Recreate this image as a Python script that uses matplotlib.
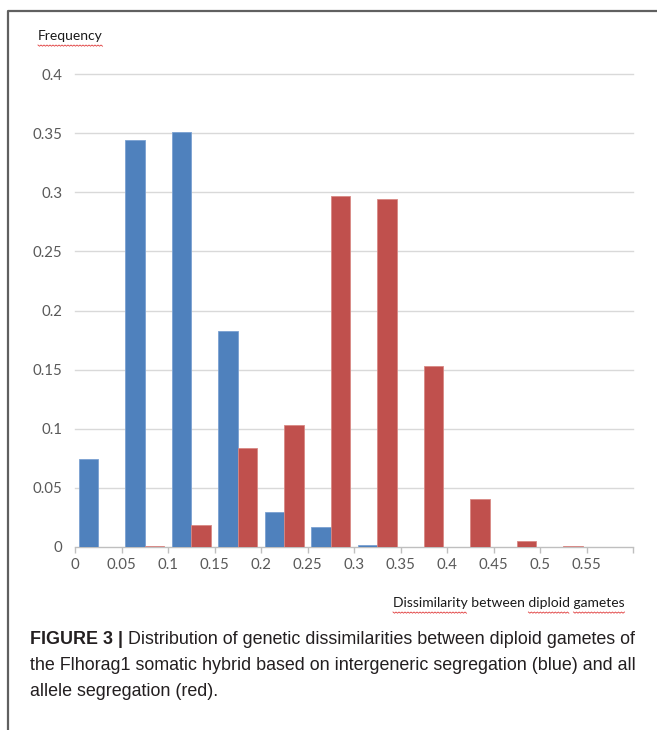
import matplotlib
matplotlib.use("Agg")
import matplotlib.pyplot as plt
from matplotlib.lines import Line2D
import numpy as np

# data
bins = [0.0, 0.05, 0.1, 0.15, 0.2, 0.25, 0.3, 0.35, 0.4, 0.45, 0.5, 0.55]
tick_labels = ["0", "0.05", "0.1", "0.15", "0.2", "0.25", "0.3", "0.35", "0.4", "0.45", "0.5", "0.55"]
blue = [0.074, 0.344, 0.351, 0.183, 0.030, 0.017, 0.0015, 0, 0, 0, 0, 0]
red = [0, 0.0005, 0.019, 0.084, 0.103, 0.297, 0.294, 0.153, 0.041, 0.005, 0.0005, 0]
yticks = [0, 0.05, 0.1, 0.15, 0.2, 0.25, 0.3, 0.35, 0.4]
ytick_labels = ["0", "0.05", "0.1", "0.15", "0.2", "0.25", "0.3", "0.35", "0.4"]

W, H = 657, 730
fig = plt.figure(figsize=(W / 100, H / 100), dpi=100)
chart_font = ["Lato", "DejaVu Sans"]
cap_font = ["Liberation Sans Narrow", "Liberation Sans", "DejaVu Sans"]
fs = 10


def fx(px):
    return px / W


def fy(py):
    return 1 - py / H


ax = fig.add_axes([fx(75), fy(547), (633 - 75) / W, (547 - 74) / H])
ax.set_xlim(0, 0.6)
ax.set_ylim(0, 0.4)

bw = 0.0207
off = 0.0043
x = np.array(bins)
ax.bar(x + off, blue, width=bw, align="edge", color="#4f81bd",
       edgecolor="#7aa1d2", linewidth=0.6, zorder=3)
ax.bar(x + off + bw, red, width=bw, align="edge", color="#c0504d",
       edgecolor="#d88884", linewidth=0.6, zorder=3)

for yv in yticks[1:]:
    ax.axhline(yv, color="#d9d9d9", lw=1.0, zorder=0, clip_on=False)

for s in ["top", "right", "left"]:
    ax.spines[s].set_visible(False)
ax.spines["bottom"].set_color("#bfbfbf")
ax.spines["bottom"].set_linewidth(1.0)

ax.set_yticks(yticks)
ax.set_yticklabels(ytick_labels)
ax.tick_params(axis="y", length=0, pad=9, labelsize=fs + 0.8, labelcolor="#595959")
ax.set_xticks(list(bins) + [0.6])
ax.set_xticklabels(tick_labels + [""])
ax.tick_params(axis="x", length=4, width=1, color="#bfbfbf", pad=4,
               labelsize=fs + 0.8, labelcolor="#595959")
for lab in ax.get_xticklabels() + ax.get_yticklabels():
    lab.set_family(chart_font)

t_freq = fig.text(fx(38), fy(36), "Frequency", family=chart_font, fontsize=fs,
                  color="#1a1a1a", ha="left", va="center")
xl_str = "Dissimilarity between diploid gametes"
t_xl = fig.text(fx(393), fy(603), xl_str, family=chart_font, fontsize=fs,
                color="#1a1a1a", ha="left", va="center")

# frame around the figure panel
fig.add_artist(Line2D([fx(8), fx(8), 1.0], [0.0, fy(11), fy(11)],
                      transform=fig.transFigure, color="#606060", lw=1.6))

fig.canvas.draw()
rend = fig.canvas.get_renderer()


def text_width(s, **kw):
    t = fig.text(0, 0, s, **kw)
    w = t.get_window_extent(rend).width
    t.remove()
    return w


def squiggle(x0, x1, ypix):
    xs = np.arange(x0, x1 + 0.01, 1.5)
    ys = ypix + np.where(np.arange(len(xs)) % 2 == 0, 0.0, 1.2)
    fig.add_artist(Line2D([fx(v) for v in xs], [fy(v) for v in ys],
                          transform=fig.transFigure, color="#e03c3c", lw=0.6))


# spell-check underlines like the source screenshot
bb = t_freq.get_window_extent(rend)
squiggle(38, 38 + bb.width, 45)
xl_kw = dict(family=chart_font, fontsize=fs)
for word in ["Dissimilarity", "diploid", "gametes"]:
    i = xl_str.index(word)
    start = 393 + (text_width(xl_str[:i], **xl_kw) if i else 0)
    wlen = text_width(word, **xl_kw)
    squiggle(start, start + wlen, 612)

# caption, sized so the first line spans the same width as the reference
bold_str = "FIGURE 3 |"
line1 = "Distribution of genetic dissimilarities between diploid gametes of"
w14 = (text_width(bold_str + " ", family=cap_font, fontsize=14, fontweight="bold")
       + text_width(line1, family=cap_font, fontsize=14))
cfs = 14 * 607 / w14
cap_kw = dict(family=cap_font, fontsize=cfs, color="#231f20", ha="left", va="center")
fig.text(fx(30), fy(640), bold_str, fontweight="bold", **cap_kw)
bw_px = text_width(bold_str + " ", family=cap_font, fontsize=cfs, fontweight="bold")
fig.text(fx(30 + bw_px), fy(640), line1, **cap_kw)
fig.text(fx(30), fy(666), "the Flhorag1 somatic hybrid based on intergeneric segregation (blue) and all", **cap_kw)
fig.text(fx(30), fy(691), "allele segregation (red).", **cap_kw)

fig.savefig("out.png", dpi=100)
